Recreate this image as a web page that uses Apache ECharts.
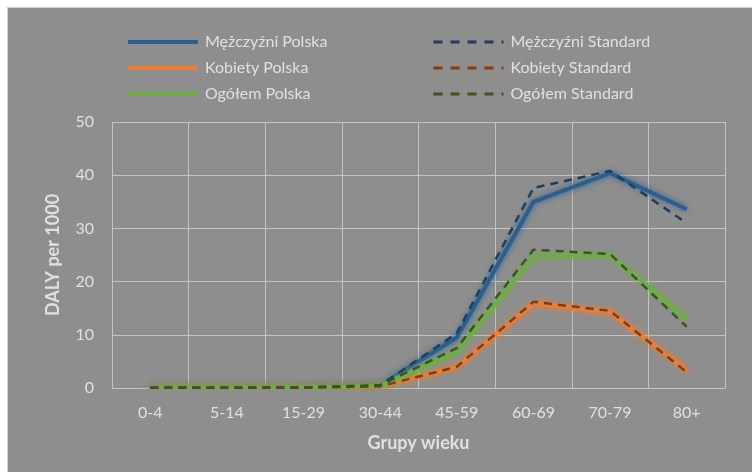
<!DOCTYPE html>
<html>
<head>
<meta charset="utf-8">
<script src="https://cdn.jsdelivr.net/npm/echarts@6/dist/echarts.min.js"></script>
<style>
  html, body { margin: 0; padding: 0; background: #ffffff; }
  #chart {
    position: absolute; left: 7px; top: 7px; width: 745px; height: 465px;
    background: #8e8e8e; border-left: 1px solid #d0d0d0; border-top: 1px solid #d0d0d0;
  }
</style>
</head>
<body>
<div id="chart"></div>
<script>
// grupy wieku
const categories = ['0-4', '5-14', '15-29', '30-44', '45-59', '60-69', '70-79', '80+'];

// DALY per 1000
const menPolska = [0.05, 0.05, 0.1, 0.5, 9.5, 35.0, 40.4, 33.6];
const menStandard = [0.05, 0.05, 0.1, 0.5, 10.3, 37.6, 40.8, 31.0];
const womenPolska = [0.05, 0.05, 0.05, 0.3, 4.0, 15.9, 14.3, 3.3];
const womenStandard = [0.05, 0.05, 0.05, 0.3, 4.0, 16.2, 14.5, 3.0];
const allPolska = [0.05, 0.05, 0.1, 0.4, 6.8, 24.7, 25.0, 13.0];
const allStandard = [0.05, 0.05, 0.1, 0.5, 7.5, 26.0, 25.2, 11.5];

const FONT = 'Lato, "Noto Sans", sans-serif';
const TXT = '#e0e0e0';

const chart = echarts.init(document.getElementById('chart'));

function solid(name, data, color) {
  return {
    name, type: 'line', data, symbol: 'none', z: 2,
    lineStyle: { width: 4, color, shadowColor: color, shadowBlur: 6 },
    itemStyle: { color }
  };
}
function dashed(name, data, color) {
  return {
    name, type: 'line', data, symbol: 'none', z: 3,
    lineStyle: { width: 2.5, color, type: [8, 6] },
    itemStyle: { color }
  };
}

const legendBase = {
  orient: 'vertical',
  itemWidth: 70,
  itemHeight: 14,
  itemGap: 10,
  itemStyle: { opacity: 0 },
  textStyle: { color: TXT, fontSize: 16, fontFamily: FONT, padding: [0, 0, 0, 2] }
};

const option = {
  animation: false,
  backgroundColor: 'transparent',
  legend: [
    Object.assign({}, legendBase, {
      left: 113, top: 21,
      lineStyle: { width: 4 },
      data: ['Mężczyźni Polska', 'Kobiety Polska', 'Ogółem Polska']
    }),
    Object.assign({}, legendBase, {
      left: 419, top: 21,
      lineStyle: { width: 3, type: [9, 8] },
      data: ['Mężczyźni Standard', 'Kobiety Standard', 'Ogółem Standard']
    })
  ],
  grid: { left: 104, right: 28, top: 114, bottom: 85 },
  xAxis: {
    type: 'category',
    data: categories,
    boundaryGap: true,
    name: 'Grupy wieku',
    nameLocation: 'middle',
    nameGap: 46,
    nameTextStyle: { color: TXT, fontSize: 18, fontWeight: 'bold', fontFamily: FONT },
    axisLine: { show: true, lineStyle: { color: '#c4c4c4', width: 1 } },
    axisTick: { show: false },
    axisLabel: { color: TXT, fontSize: 16, fontFamily: FONT, margin: 17 },
    splitLine: { show: true, lineStyle: { color: '#c4c4c4', width: 1 } }
  },
  yAxis: {
    type: 'value',
    min: 0, max: 50, interval: 10,
    name: 'DALY per 1000',
    nameLocation: 'middle',
    nameGap: 50,
    nameTextStyle: { color: TXT, fontSize: 18, fontWeight: 'bold', fontFamily: FONT },
    axisLine: { show: false },
    axisTick: { show: false },
    axisLabel: { color: TXT, fontSize: 16, fontFamily: FONT, margin: 18 },
    splitLine: { show: true, lineStyle: { color: '#c4c4c4', width: 1 } }
  },
  series: [
    solid('Mężczyźni Polska', menPolska, '#2b5f8f'),
    solid('Kobiety Polska', womenPolska, '#ed7d31'),
    solid('Ogółem Polska', allPolska, '#70ad47'),
    dashed('Mężczyźni Standard', menStandard, '#1f3d5c'),
    dashed('Kobiety Standard', womenStandard, '#843c0c'),
    dashed('Ogółem Standard', allStandard, '#375623')
  ]
};

chart.setOption(option);
</script>
</body>
</html>
